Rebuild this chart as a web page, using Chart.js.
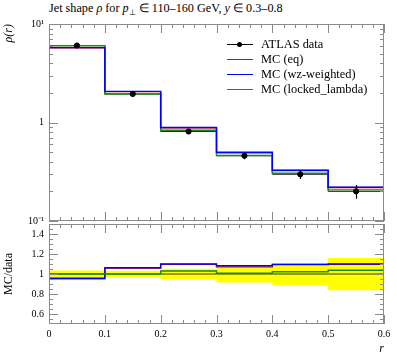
<!DOCTYPE html>
<html>
<head>
<meta charset="utf-8">
<script src="https://cdn.jsdelivr.net/npm/chart.js@4/dist/chart.umd.min.js"></script>
<style>
    body { margin: 0; width: 397px; height: 358px; position: relative; background: #fff; overflow: hidden; font-family: "Liberation Serif", serif; color: #000; }
    canvas { position: absolute; left: 0; }
    #mainChart { top: 0; }
    #ratioChart { top: 200px; }
    #title { position: absolute; left: 49px; top: 1px; font-size: 12.2px; white-space: nowrap; }
    #title sub { font-size: 8px; }
    .leg { position: absolute; left: 227px; font-size: 12.4px; height: 14px; line-height: 14px; white-space: nowrap; }
    .leg .sw { position: absolute; left: 0; top: 7px; width: 26px; height: 1.2px; }
    .leg .dot { position: absolute; left: 10px; top: 5px; width: 5px; height: 5px; border-radius: 50%; background: #000; }
    .leg .txt { position: absolute; left: 34px; top: 0; }
</style>
</head>
<body>
<div id="title">Jet shape <i>ρ</i> for <i>p</i><sub>⊥</sub> ∈ 110–160 GeV, <i>y</i> ∈ 0.3–0.8</div>
<canvas id="mainChart" width="397" height="232"></canvas>
<canvas id="ratioChart" width="397" height="158"></canvas>
<div id="legend"></div>
<script>
// bins in r
const binEdges = [0, 0.1, 0.2, 0.3, 0.4, 0.5, 0.6];
const binCenters = [0.05, 0.15, 0.25, 0.35, 0.45, 0.55];

// ATLAS data, rho(r) and its uncertainty
const atlasData = [6.05, 1.95, 0.81, 0.46, 0.298, 0.200];
const atlasErr = [0.20, 0.07, 0.045, 0.037, 0.031, 0.032];

// MC predictions, rho(r)
const mcEq = [5.72, 2.06, 0.885, 0.492, 0.326, 0.219];
const mcWz = [5.76, 2.07, 0.89, 0.498, 0.327, 0.220];
const mcLocked = [6.02, 1.95, 0.834, 0.463, 0.305, 0.207];

// MC / data ratios
const ratioEq = [0.953, 1.060, 1.096, 1.071, 1.097, 1.096];
const ratioWz = [0.957, 1.063, 1.100, 1.083, 1.094, 1.100];
const ratioLocked = [1.000, 1.000, 1.030, 1.007, 1.023, 1.037];
const ratioBandLo = [0.965, 0.967, 0.945, 0.915, 0.890, 0.838];
const ratioBandHi = [1.035, 1.033, 1.052, 1.075, 1.100, 1.160];

// axis ticks
const xTicks = [0, 0.1, 0.2, 0.3, 0.4, 0.5, 0.6];
const xTickLabels = ['0', '0.1', '0.2', '0.3', '0.4', '0.5', '0.6'];
const mainYTicks = [0.1, 1, 10];
const mainYLabels = ['10⁻¹', '1', '10¹'];
const ratioYTicks = [0.6, 0.8, 1, 1.2, 1.4];
const ratioYLabels = ['0.6', '0.8', '1', '1.2', '1.4'];

const series = [
    { label: 'MC (eq)', color: '#e00000', main: mcEq, ratio: ratioEq },
    { label: 'MC (wz-weighted)', color: '#0000ff', main: mcWz, ratio: ratioWz },
    { label: 'MC (locked_lambda)', color: '#1a8a1a', main: mcLocked, ratio: ratioLocked }
];

const FAMILY = "'Liberation Serif', serif";
Chart.defaults.font.family = FAMILY;
Chart.defaults.color = '#000';

const FRAME = '#8a8a8a';

function stepPoints(vals) {
    return binEdges.map((x, i) => ({ x: x, y: vals[Math.min(i, vals.length - 1)] }));
}

// order: higher value is drawn first (below)
function stepLine(vals, color, width, order, extra) {
    return Object.assign({
        type: 'line',
        data: stepPoints(vals),
        borderColor: color,
        borderWidth: width,
        stepped: 'before',
        pointRadius: 0,
        fill: false,
        order: order
    }, extra || {});
}

// frame + inward ticks on all four sides
function frameTicks(minorY, majorY) {
    return {
        id: 'frameTicks',
        afterDraw(chart) {
            const { ctx, chartArea: a } = chart;
            const xs = chart.scales.x, ys = chart.scales.y;
            ctx.save();
            ctx.strokeStyle = FRAME;
            ctx.lineWidth = 1;
            ctx.strokeRect(a.left + 0.5, a.top + 0.5, a.right - a.left - 1, a.bottom - a.top - 1);
            ctx.beginPath();
            for (let i = 0; i <= 30; i++) {
                const v = i * 0.02;
                const px = Math.round(xs.getPixelForValue(v)) + 0.5;
                const len = (i % 5 === 0) ? 9 : 4;
                ctx.moveTo(px, a.bottom); ctx.lineTo(px, a.bottom - len);
                ctx.moveTo(px, a.top); ctx.lineTo(px, a.top + len);
            }
            minorY.forEach(v => {
                const py = Math.round(ys.getPixelForValue(v)) + 0.5;
                ctx.moveTo(a.left, py); ctx.lineTo(a.left + 4, py);
                ctx.moveTo(a.right, py); ctx.lineTo(a.right - 4, py);
            });
            majorY.forEach(v => {
                const py = Math.round(ys.getPixelForValue(v)) + 0.5;
                ctx.moveTo(a.left, py); ctx.lineTo(a.left + 9, py);
                ctx.moveTo(a.right, py); ctx.lineTo(a.right - 9, py);
            });
            ctx.stroke();
            ctx.restore();
        }
    };
}

const errorBars = {
    id: 'errorBars',
    afterDatasetsDraw(chart) {
        const { ctx } = chart;
        const xs = chart.scales.x, ys = chart.scales.y;
        ctx.save();
        ctx.strokeStyle = '#000';
        ctx.lineWidth = 1.2;
        ctx.beginPath();
        binCenters.forEach((c, i) => {
            const px = Math.round(xs.getPixelForValue(c)) + 0.5;
            ctx.moveTo(px, ys.getPixelForValue(atlasData[i] - atlasErr[i]));
            ctx.lineTo(px, ys.getPixelForValue(atlasData[i] + atlasErr[i]));
        });
        ctx.stroke();
        ctx.restore();
    }
};

const mainMinor = [];
[0.1, 1].forEach(d => { for (let k = 2; k <= 9; k++) mainMinor.push(k * d); });
const ratioMinor = [];
for (let v = 0.55; v < 1.5; v += 0.05) ratioMinor.push(Math.round(v * 100) / 100);

const tickFont = { family: FAMILY, size: 10 };
const titleFont = { family: FAMILY, size: 12 };

new Chart(document.getElementById('mainChart'), {
    type: 'line',
    data: {
        datasets: [
            stepLine(atlasData, '#222', 1, 10),
            stepLine(mcEq, series[0].color, 1.4, 8),
            stepLine(mcLocked, series[2].color, 1.4, 7),
            stepLine(mcWz, series[1].color, 1.4, 6),
            {
                type: 'scatter',
                data: binCenters.map((x, i) => ({ x: x, y: atlasData[i] })),
                backgroundColor: '#000',
                borderColor: '#000',
                pointRadius: 2.6,
                order: 0
            }
        ]
    },
    options: {
        responsive: false,
        animation: false,
        layout: { padding: { top: 24, right: 13, bottom: 8, left: 0 } },
        plugins: { legend: { display: false }, tooltip: { enabled: false } },
        scales: {
            x: { type: 'linear', min: 0, max: 0.6, display: false },
            y: {
                type: 'logarithmic', min: 0.1, max: 10,
                afterFit: s => { s.width = 49; },
                afterBuildTicks: s => { s.ticks = mainYTicks.map(v => ({ value: v })); },
                ticks: {
                    padding: 5,
                    font: tickFont,
                    callback: (v) => mainYLabels[mainYTicks.indexOf(v)]
                },
                grid: { display: false, drawTicks: false },
                border: { display: false },
                title: { display: true, text: 'ρ(r)', align: 'end', font: { family: FAMILY, size: 12, style: 'italic' }, padding: { top: 2 } }
            }
        }
    },
    plugins: [frameTicks(mainMinor, mainYTicks), errorBars]
});

new Chart(document.getElementById('ratioChart'), {
    type: 'line',
    data: {
        datasets: [
            stepLine(ratioBandHi, 'rgba(0,0,0,0)', 0, 20),
            stepLine(ratioBandLo, 'rgba(0,0,0,0)', 0, 19, { fill: '-1', backgroundColor: '#ffff00' }),
            stepLine(atlasData.map(() => 1), '#333', 1, 10),
            stepLine(ratioEq, series[0].color, 1.4, 8),
            stepLine(ratioWz, series[1].color, 1.4, 7),
            stepLine(ratioLocked, series[2].color, 1.4, 6)
        ]
    },
    options: {
        responsive: false,
        animation: false,
        layout: { padding: { top: 24, right: 13, bottom: 0, left: 0 } },
        plugins: { legend: { display: false }, tooltip: { enabled: false } },
        scales: {
            x: {
                type: 'linear', min: 0, max: 0.6,
                afterFit: s => { s.height = 34; },
                afterBuildTicks: s => { s.ticks = xTicks.map(v => ({ value: v })); },
                ticks: {
                    padding: 4,
                    font: tickFont,
                    maxRotation: 0,
                    callback: (v) => xTickLabels[xTicks.indexOf(v)]
                },
                grid: { display: false, drawTicks: false },
                border: { display: false },
                title: { display: true, text: 'r', align: 'end', font: { family: FAMILY, size: 12, style: 'italic' }, padding: { bottom: 2 } }
            },
            y: {
                type: 'linear', min: 0.5, max: 1.5,
                afterFit: s => { s.width = 49; },
                afterBuildTicks: s => { s.ticks = ratioYTicks.map(v => ({ value: v })); },
                ticks: {
                    padding: 5,
                    font: tickFont,
                    callback: (v) => ratioYLabels[ratioYTicks.indexOf(v)]
                },
                grid: { display: false, drawTicks: false },
                border: { display: false },
                title: { display: true, text: 'MC/data', align: 'center', font: titleFont, padding: { top: 2 } }
            }
        }
    },
    plugins: [frameTicks(ratioMinor, ratioYTicks)]
});

// legend
const legendRows = [{ label: 'ATLAS data', color: '#000', dot: true }].concat(series);
const legendEl = document.getElementById('legend');
legendRows.forEach((r, i) => {
    const row = document.createElement('div');
    row.className = 'leg';
    row.style.top = (37 + i * 15) + 'px';
    row.innerHTML = '<span class="sw" style="background:' + r.color + '"></span>' +
        (r.dot ? '<span class="dot"></span>' : '') +
        '<span class="txt">' + r.label + '</span>';
    legendEl.appendChild(row);
});
</script>
</body>
</html>
